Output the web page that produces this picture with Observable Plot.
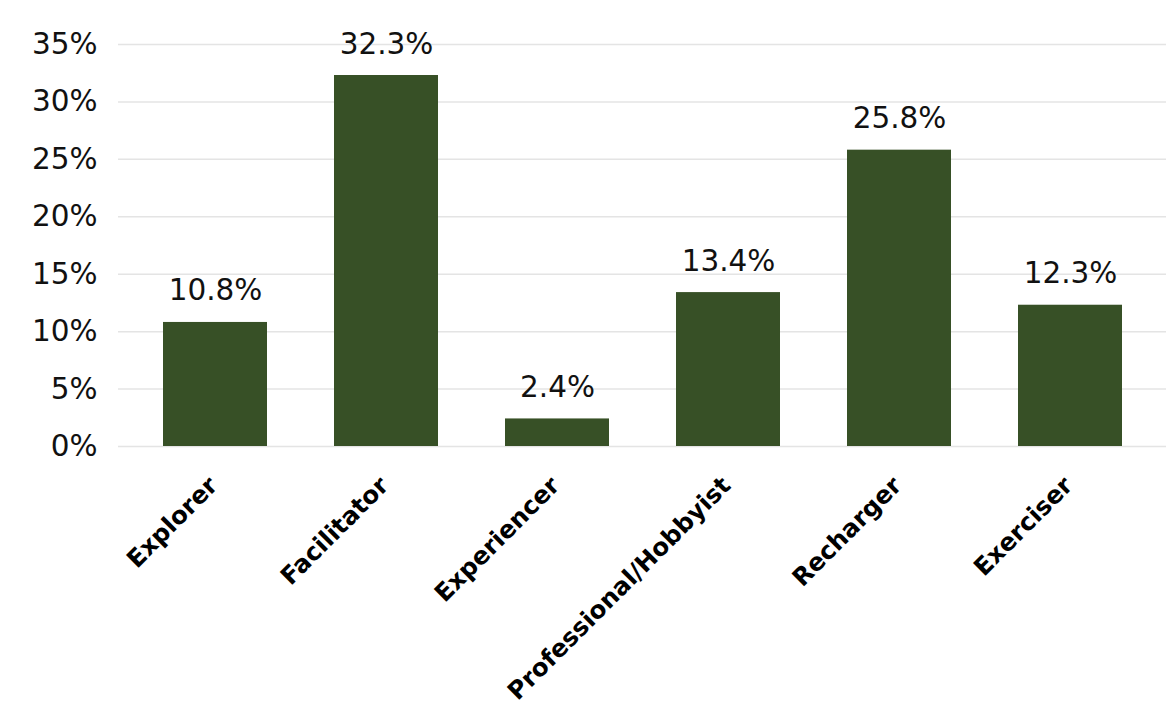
<!DOCTYPE html>
<html>
<head>
<meta charset="utf-8">
<script src="https://cdn.jsdelivr.net/npm/d3@7"></script>
<script src="https://cdn.jsdelivr.net/npm/@observablehq/plot@0.6"></script>
<style>
  html, body { margin: 0; padding: 0; background: #fff; }
  #chart { width: 1166px; height: 715px; }
</style>
</head>
<body>
<div id="chart"></div>
<script>
const categories = ["Explorer", "Facilitator", "Experiencer", "Professional/Hobbyist", "Recharger", "Exerciser"];
const values = [10.8, 32.3, 2.4, 13.4, 25.8, 12.3];
const yTicks = [0, 5, 10, 15, 20, 25, 30, 35];

const data = categories.map((c, i) => ({category: c, value: values[i]}));

const chart = Plot.plot({
  width: 1166,
  height: 715,
  marginLeft: 130,
  marginRight: 10,
  marginTop: 44,
  marginBottom: 269,
  style: {fontFamily: "'DejaVu Sans', sans-serif", background: "#fff"},
  x: {domain: categories, paddingInner: 0.39, paddingOuter: 0.195, axis: null},
  y: {domain: [0, 35], ticks: yTicks, axis: null},
  marks: [
    Plot.ruleY(yTicks, {stroke: "#e4e4e4", strokeWidth: 1.5, insetLeft: -12, insetRight: -10}),
    Plot.barY(data, {x: "category", y: "value", fill: "#375026"}),
    Plot.text(yTicks, {
      y: d => d, text: d => `${d}%`,
      frameAnchor: "left", textAnchor: "end", dx: -33,
      fontSize: 29.5, fill: "#111", letterSpacing: 2.5
    }),
    Plot.text(data, {
      x: "category", y: "value", text: d => `${d.value.toFixed(1)}%`,
      lineAnchor: "bottom", dy: -22, fontSize: 29.5, fill: "#111",
      letterSpacing: 2.5
    }),
    Plot.text(data, {
      x: "category", y: () => 0, text: "category",
      textAnchor: "end", lineAnchor: "middle", rotate: -45,
      dx: -2, dy: 35, fontSize: 24.5, fontWeight: "bold", fill: "#000"
    })
  ]
});
document.getElementById("chart").appendChild(chart);
</script>
</body>
</html>
